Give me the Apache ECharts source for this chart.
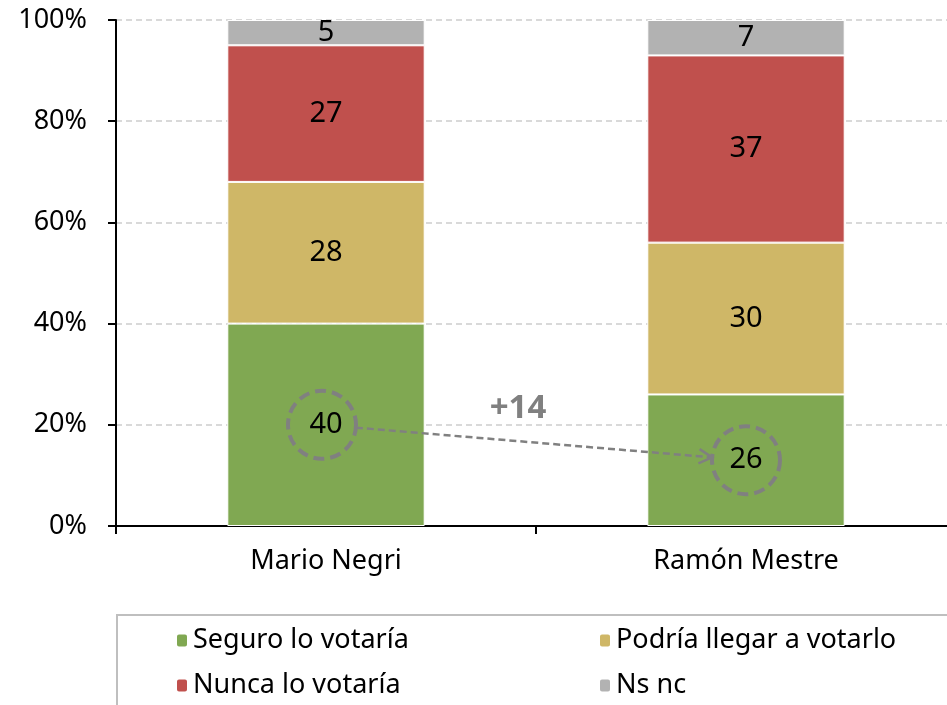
<!DOCTYPE html>
<html>
<head>
<meta charset="utf-8">
<script src="https://cdn.jsdelivr.net/npm/echarts@6/dist/echarts.min.js"></script>
<style>
  html, body { margin: 0; padding: 0; background: #fff; }
  #chart { width: 947px; height: 705px; }
</style>
</head>
<body>
<div id="chart"></div>
<script>
// voting intention by candidate
var categories = ['Mario Negri', 'Ramón Mestre'];
var seguro = [40, 26];
var podria = [28, 30];
var nunca = [27, 37];
var nsnc = [5, 7];
var seriesNames = ['Seguro lo votaría', 'Podría llegar a votarlo', 'Nunca lo votaría', 'Ns nc'];
var yTicks = [0, 20, 40, 60, 80, 100];

var font = 'Noto Sans';
var colors = ['#80a852', '#cfb767', '#c0504d', '#b2b2b2'];

function barSeries(name, data, color) {
  return {
    name: name,
    type: 'bar',
    stack: 'total',
    barWidth: '47%',
    data: data,
    itemStyle: { color: color, borderColor: '#fff', borderWidth: 1 },
    label: {
      show: true,
      position: 'inside',
      color: '#000',
      fontFamily: font,
      fontSize: 29
    }
  };
}

var legendText = { fontFamily: font, fontSize: 27, color: '#000' };

var chart = echarts.init(document.getElementById('chart'));
chart.setOption({
  animation: false,
  color: colors,
  grid: { left: 116, top: 20, width: 840, bottom: 179, outerBoundsMode: 'none' },
  legend: [{
    left: 170, top: 622,
    orient: 'vertical',
    itemGap: 18,
    itemWidth: 12, itemHeight: 14,
    data: [seriesNames[0], seriesNames[2]],
    textStyle: legendText
  }, {
    left: 593, top: 622,
    orient: 'vertical',
    itemGap: 18,
    itemWidth: 12, itemHeight: 14,
    data: [seriesNames[1], seriesNames[3]],
    textStyle: legendText
  }],
  xAxis: {
    type: 'category',
    data: categories,
    axisLine: { lineStyle: { color: '#000', width: 2 } },
    axisTick: { show: true, length: 8, lineStyle: { color: '#000', width: 2 } },
    axisLabel: { color: '#000', fontFamily: font, fontSize: 27, margin: 22 }
  },
  yAxis: {
    type: 'value',
    min: yTicks[0],
    max: yTicks[yTicks.length - 1],
    interval: 20,
    axisLine: { show: true, lineStyle: { color: '#000', width: 2 } },
    axisTick: { show: true, length: 8, lineStyle: { color: '#000', width: 2 } },
    axisLabel: { color: '#000', fontFamily: font, fontSize: 27, margin: 29, formatter: '{value}%' },
    splitLine: { lineStyle: { color: '#d9d9d9', type: [6, 4], width: 2 } }
  },
  series: [
    barSeries(seriesNames[0], seguro, colors[0]),
    barSeries(seriesNames[1], podria, colors[1]),
    barSeries(seriesNames[2], nunca, colors[2]),
    barSeries(seriesNames[3], nsnc, colors[3])
  ]
});

// annotation: circles round the green values and the gap arrow
var r = 34;
var p0 = chart.convertToPixel({ gridIndex: 0 }, [categories[0], seguro[0] / 2]);
var p1 = chart.convertToPixel({ gridIndex: 0 }, [categories[1], seguro[1] / 2]);
p0[0] -= 4; p1[0] += 0;
var dx = p1[0] - p0[0], dy = p1[1] - p0[1];
var len = Math.sqrt(dx * dx + dy * dy);
var ux = dx / len, uy = dy / len;
var a = [p0[0] + ux * r, p0[1] + uy * r];
var b = [p1[0] - ux * r, p1[1] - uy * r];
var ang = Math.atan2(dy, dx);
var head = 15;
function headPt(s) {
  return [b[0] - head * Math.cos(ang + s), b[1] - head * Math.sin(ang + s)];
}
var gray = '#808080';
var dashed = { stroke: gray, lineWidth: 4, lineDash: [11, 6], fill: null };

chart.setOption({
  graphic: [
    { type: 'rect', shape: { x: 117, y: 615, width: 840, height: 110 },
      style: { fill: null, stroke: '#bfbfbf', lineWidth: 2 }, silent: true },
    { type: 'circle', shape: { cx: p0[0], cy: p0[1], r: r }, style: dashed, z: 100 },
    { type: 'circle', shape: { cx: p1[0], cy: p1[1], r: r }, style: dashed, z: 100 },
    { type: 'line', shape: { x1: a[0], y1: a[1], x2: b[0], y2: b[1] },
      style: { stroke: gray, lineWidth: 2.5, lineDash: [7, 4] }, z: 100 },
    { type: 'polyline', shape: { points: [headPt(0.5), b, headPt(-0.5)] },
      style: { stroke: gray, lineWidth: 2.5, fill: null }, z: 100 },
    { type: 'text', x: (p0[0] + p1[0]) / 2 - 16, y: (p0[1] + p1[1]) / 2 - 34, z: 100,
      style: { text: '+' + (seguro[0] - seguro[1]), fill: gray, font: 'bold 33px "Noto Sans"',
        align: 'center', verticalAlign: 'middle' } }
  ]
});
</script>
</body>
</html>
